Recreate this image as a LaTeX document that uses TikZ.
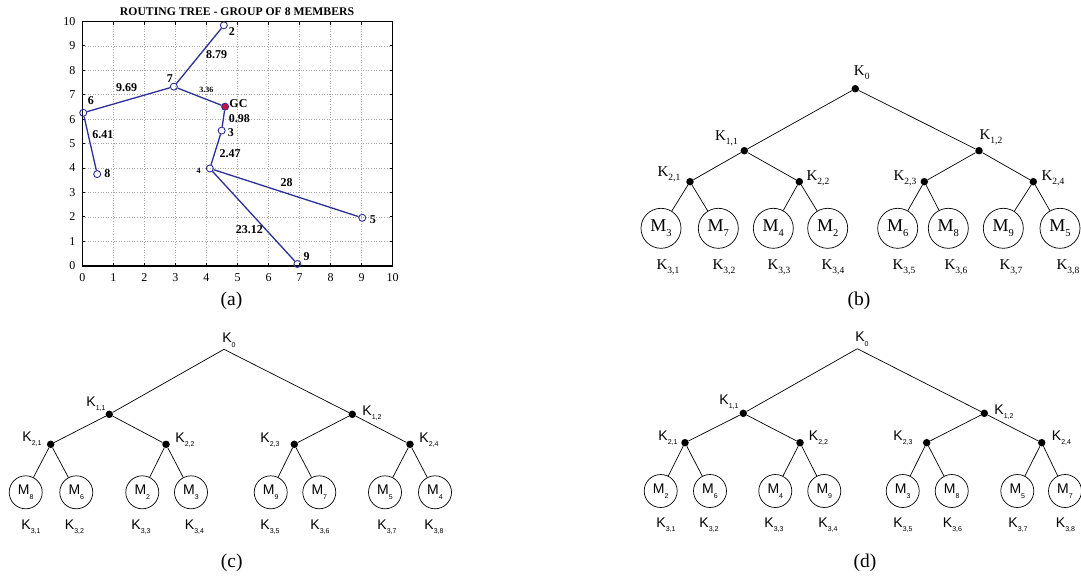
\documentclass[tikz,border=0pt]{standalone}
\usepackage{fontspec}
\setmainfont{Liberation Serif}
\setsansfont{Liberation Sans}
\definecolor{plotblue}{HTML}{2B2F96}
\definecolor{gcred}{HTML}{D0103A}
\newcommand\bsub[1]{\raisebox{-0.55ex}{\fontsize{9.5}{9.5}\selectfont #1}}
\newcommand\msub[1]{\raisebox{-0.55ex}{\fontsize{10.5}{10.5}\selectfont #1}}
\newcommand\ssub[1]{\raisebox{-0.6ex}{\fontsize{7}{7}\selectfont #1}}
\tikzset{
  tline/.style={line width=0.7pt},
  dot/.style={circle,fill=black,inner sep=0pt,minimum size=7.5pt},
  bleaf/.style={circle,draw,line width=0.7pt,minimum size=40pt,inner sep=0pt,font=\fontsize{18}{18}\selectfont},
  sleaf/.style={circle,draw,line width=0.7pt,minimum size=33pt,inner sep=0pt,font=\sffamily\fontsize{14}{14}\selectfont},
  blab/.style={font=\fontsize{15}{15}\selectfont,inner sep=0pt},
  slab/.style={font=\sffamily\fontsize{14}{14}\selectfont,inner sep=0pt},
  caplab/.style={font=\fontsize{19.5}{19.5}\selectfont,inner sep=0pt},
  gridl/.style={gray!70,dotted,line width=0.6pt},
  ticklab/.style={font=\fontsize{12}{12}\selectfont,inner sep=0pt},
  pt/.style={circle,draw=plotblue,line width=0.9pt,minimum size=7pt,inner sep=0pt},
  pline/.style={plotblue,line width=1.3pt},
  dlab/.style={font=\bfseries\fontsize{12}{12}\selectfont,inner sep=0pt},
  slab2/.style={font=\bfseries\fontsize{8}{8}\selectfont,inner sep=0pt},
}
\begin{document}
\begin{tikzpicture}[x=1pt,y=-1pt]
\useasboundingbox (0,0) rectangle (1081,581);
% ---------------- (a) plot ----------------
\node[font=\bfseries\fontsize{11.7}{11.7}\selectfont,inner sep=0pt] (title) at (237,12) {ROUTING TREE - GROUP OF 8 MEMBERS};
\begin{scope}[shift={(82.3,265.7)},x=31.04pt,y=24.43pt]
  \foreach \v in {1,...,9}{
    \draw[gridl] (\v,0) -- (\v,10);
    \draw[gridl] (0,\v) -- (10,\v);
    \draw[line width=0.8pt] (\v,0) -- ++(0,0.13);
    \draw[line width=0.8pt] (\v,10) -- ++(0,-0.13);
    \draw[line width=0.8pt] (0,\v) -- ++(0.1,0);
    \draw[line width=0.8pt] (10,\v) -- ++(-0.1,0);
  }
  \draw[line width=1.2pt] (0,0) rectangle (10,10);
  \draw[line width=1.6pt] (0,10) -- (0,0) -- (10,0);
  \foreach \v in {0,...,10}{
    \node[ticklab] (tx\v) at (\v,-0.47) {\v};
    \node[ticklab,anchor=east] (ty\v) at (-0.22,\v) {\v};
  }
  \node[pt] (p2) at (4.56,9.84) {};
  \node[pt] (p7) at (2.95,7.33) {};
  \node[pt,fill=gcred] (pgc) at (4.6,6.51) {};
  \node[pt] (p3) at (4.49,5.53) {};
  \node[pt] (p6) at (0.03,6.26) {};
  \node[pt] (p8) at (0.48,3.75) {};
  \node[pt] (p4) at (4.11,3.98) {};
  \node[pt] (p5) at (9.02,1.96) {};
  \node[pt] (p9) at (6.93,0.07) {};
  \draw[pline] (p2) -- (p7);
  \draw[pline] (p7) -- (p6);
  \draw[pline] (p7) -- (pgc);
  \draw[pline] (pgc) -- (p3);
  \draw[pline] (p3) -- (p4);
  \draw[pline] (p6) -- (p8);
  \draw[pline] (p4) -- (p5);
  \draw[pline] (p4) -- (p9);
  \node[dlab] (l2) at (4.82,9.6) {2};
  \node[dlab] (l879) at (4.33,8.66) {8.79};
  \node[dlab] (l7) at (2.82,7.67) {7};
  \node[dlab] (l969) at (1.43,7.30) {9.69};
  \node[slab2] (l336) at (4.0,7.19) {3.36};
  \node[dlab] (lgc) at (5.03,6.64) {GC};
  \node[dlab] (l6) at (0.28,6.75) {6};
  \node[dlab] (l098) at (5.06,6.03) {0.98};
  \node[dlab] (l3) at (4.79,5.44) {3};
  \node[dlab] (l641) at (0.66,5.35) {6.41};
  \node[dlab] (l247) at (4.76,4.6) {2.47};
  \node[slab2] (l4) at (3.75,3.89) {4};
  \node[dlab] (l8) at (0.81,3.78) {8};
  \node[dlab] (l28) at (6.58,3.4) {28};
  \node[dlab] (l5) at (9.36,1.87) {5};
  \node[dlab] (l2312) at (5.38,1.46) {23.12};
  \node[dlab] (l9) at (7.23,0.37) {9};
\end{scope}
\node[caplab] (capa) at (231.5,301) {(a)};
% ---------------- (b) tree ----------------
\node[dot] (b0) at (855.3,88.7) {};
\node[dot] (b11) at (744.3,150.7) {};
\node[dot] (b12) at (979,150.7) {};
\node[dot] (b21) at (690,181.7) {};
\node[dot] (b22) at (799.3,181.7) {};
\node[dot] (b23) at (924.3,181.7) {};
\node[dot] (b24) at (1033.3,181.7) {};
\node[blab] (bt0) at (861.7,73) {K\bsub{0}};
\node[blab] (bt11) at (726.5,138) {K\bsub{1,1}};
\node[blab] (bt12) at (991,137) {K\bsub{1,2}};
\node[blab] (bt21) at (669,174) {K\bsub{2,1}};
\node[blab] (bt22) at (818,178) {K\bsub{2,2}};
\node[blab] (bt23) at (905,178) {K\bsub{2,3}};
\node[blab] (bt24) at (1053,178) {K\bsub{2,4}};
\foreach \x/\m [count=\i] in {661/3,718.3/7,773.3/4,827.7/2,897.7/6,948.3/8,1003.3/9,1060/5}{
  \node[bleaf] (bl\i) at (\x,228.3) {M\msub{\m}};
}
\foreach \x [count=\i] in {668,724,779,833,904,956,1011,1068}{
  \node[blab] (bk\i) at (\x,267) {K\bsub{3,\i}};
}
\draw[tline] (b0) -- (b11);
\draw[tline] (b0) -- (b12);
\draw[tline] (b11) -- (b21);
\draw[tline] (b11) -- (b22);
\draw[tline] (b12) -- (b23);
\draw[tline] (b12) -- (b24);
\draw[tline] (b21) -- (bl1);
\draw[tline] (b21) -- (bl2);
\draw[tline] (b22) -- (bl3);
\draw[tline] (b22) -- (bl4);
\draw[tline] (b23) -- (bl5);
\draw[tline] (b23) -- (bl6);
\draw[tline] (b24) -- (bl7);
\draw[tline] (b24) -- (bl8);
\node[caplab] (capb) at (859,301) {(b)};
% ---------------- (c) tree ----------------
\coordinate (c0) at (224,349.3);
\node[dot] (c11) at (109.3,414.3) {};
\node[dot] (c12) at (352.3,414.3) {};
\node[dot] (c21) at (50.7,444.3) {};
\node[dot] (c22) at (166,444.3) {};
\node[dot] (c23) at (294.3,444.3) {};
\node[dot] (c24) at (410,444.3) {};
\node[slab] (ct0) at (229,340) {K\ssub{0}};
\node[slab] (ct11) at (96,404) {K\ssub{1,1}};
\node[slab] (ct12) at (372,413) {K\ssub{1,2}};
\node[slab] (ct21) at (32,439) {K\ssub{2,1}};
\node[slab] (ct22) at (185,440) {K\ssub{2,2}};
\node[slab] (ct23) at (270,440) {K\ssub{2,3}};
\node[slab] (ct24) at (429,440) {K\ssub{2,4}};
\foreach \x/\m [count=\i] in {25.7/8,76.3/6,142.3/2,191/3,270.7/9,319.3/7,385/5,435/4}{
  \node[sleaf] (cl\i) at (\x,492.3) {M\ssub{\m}};
}
\foreach \x [count=\i] in {31,74.5,141,194.5,270,320,387,434}{
  \node[slab] (ck\i) at (\x,527) {K\ssub{3,\i}};
}
\draw[tline] (c0) -- (c11);
\draw[tline] (c0) -- (c12);
\draw[tline] (c11) -- (c21);
\draw[tline] (c11) -- (c22);
\draw[tline] (c12) -- (c23);
\draw[tline] (c12) -- (c24);
\draw[tline] (c21) -- (cl1);
\draw[tline] (c21) -- (cl2);
\draw[tline] (c22) -- (cl3);
\draw[tline] (c22) -- (cl4);
\draw[tline] (c23) -- (cl5);
\draw[tline] (c23) -- (cl6);
\draw[tline] (c24) -- (cl7);
\draw[tline] (c24) -- (cl8);
\node[caplab] (capc) at (231.7,563) {(c)};
% ---------------- (d) tree ----------------
\coordinate (d0) at (857.3,348.7);
\node[dot] (d11) at (743.3,413.3) {};
\node[dot] (d12) at (984.3,413.3) {};
\node[dot] (d21) at (685,442.7) {};
\node[dot] (d22) at (800,442.7) {};
\node[dot] (d23) at (926.7,442.7) {};
\node[dot] (d24) at (1041.7,442.7) {};
\node[slab] (dt0) at (862,339) {K\ssub{0}};
\node[slab] (dt11) at (729,402) {K\ssub{1,1}};
\node[slab] (dt12) at (1004,412) {K\ssub{1,2}};
\node[slab] (dt21) at (668,438) {K\ssub{2,1}};
\node[slab] (dt22) at (818.5,438) {K\ssub{2,2}};
\node[slab] (dt23) at (903,438) {K\ssub{2,3}};
\node[slab] (dt24) at (1061.5,438) {K\ssub{2,4}};
\foreach \x/\m [count=\i] in {660.7/2,710/6,775.3/4,824.3/9,902.7/3,951.7/8,1017.3/5,1065/7}{
  \node[sleaf] (dl\i) at (\x,491) {M\ssub{\m}};
}
\foreach \x [count=\i] in {666,709,774,828,903,952.5,1018,1065.5}{
  \node[slab] (dk\i) at (\x,525) {K\ssub{3,\i}};
}
\draw[tline] (d0) -- (d11);
\draw[tline] (d0) -- (d12);
\draw[tline] (d11) -- (d21);
\draw[tline] (d11) -- (d22);
\draw[tline] (d12) -- (d23);
\draw[tline] (d12) -- (d24);
\draw[tline] (d21) -- (dl1);
\draw[tline] (d21) -- (dl2);
\draw[tline] (d22) -- (dl3);
\draw[tline] (d22) -- (dl4);
\draw[tline] (d23) -- (dl5);
\draw[tline] (d23) -- (dl6);
\draw[tline] (d24) -- (dl7);
\draw[tline] (d24) -- (dl8);
\node[caplab] (capd) at (865,563) {(d)};
\end{tikzpicture}
\end{document}
